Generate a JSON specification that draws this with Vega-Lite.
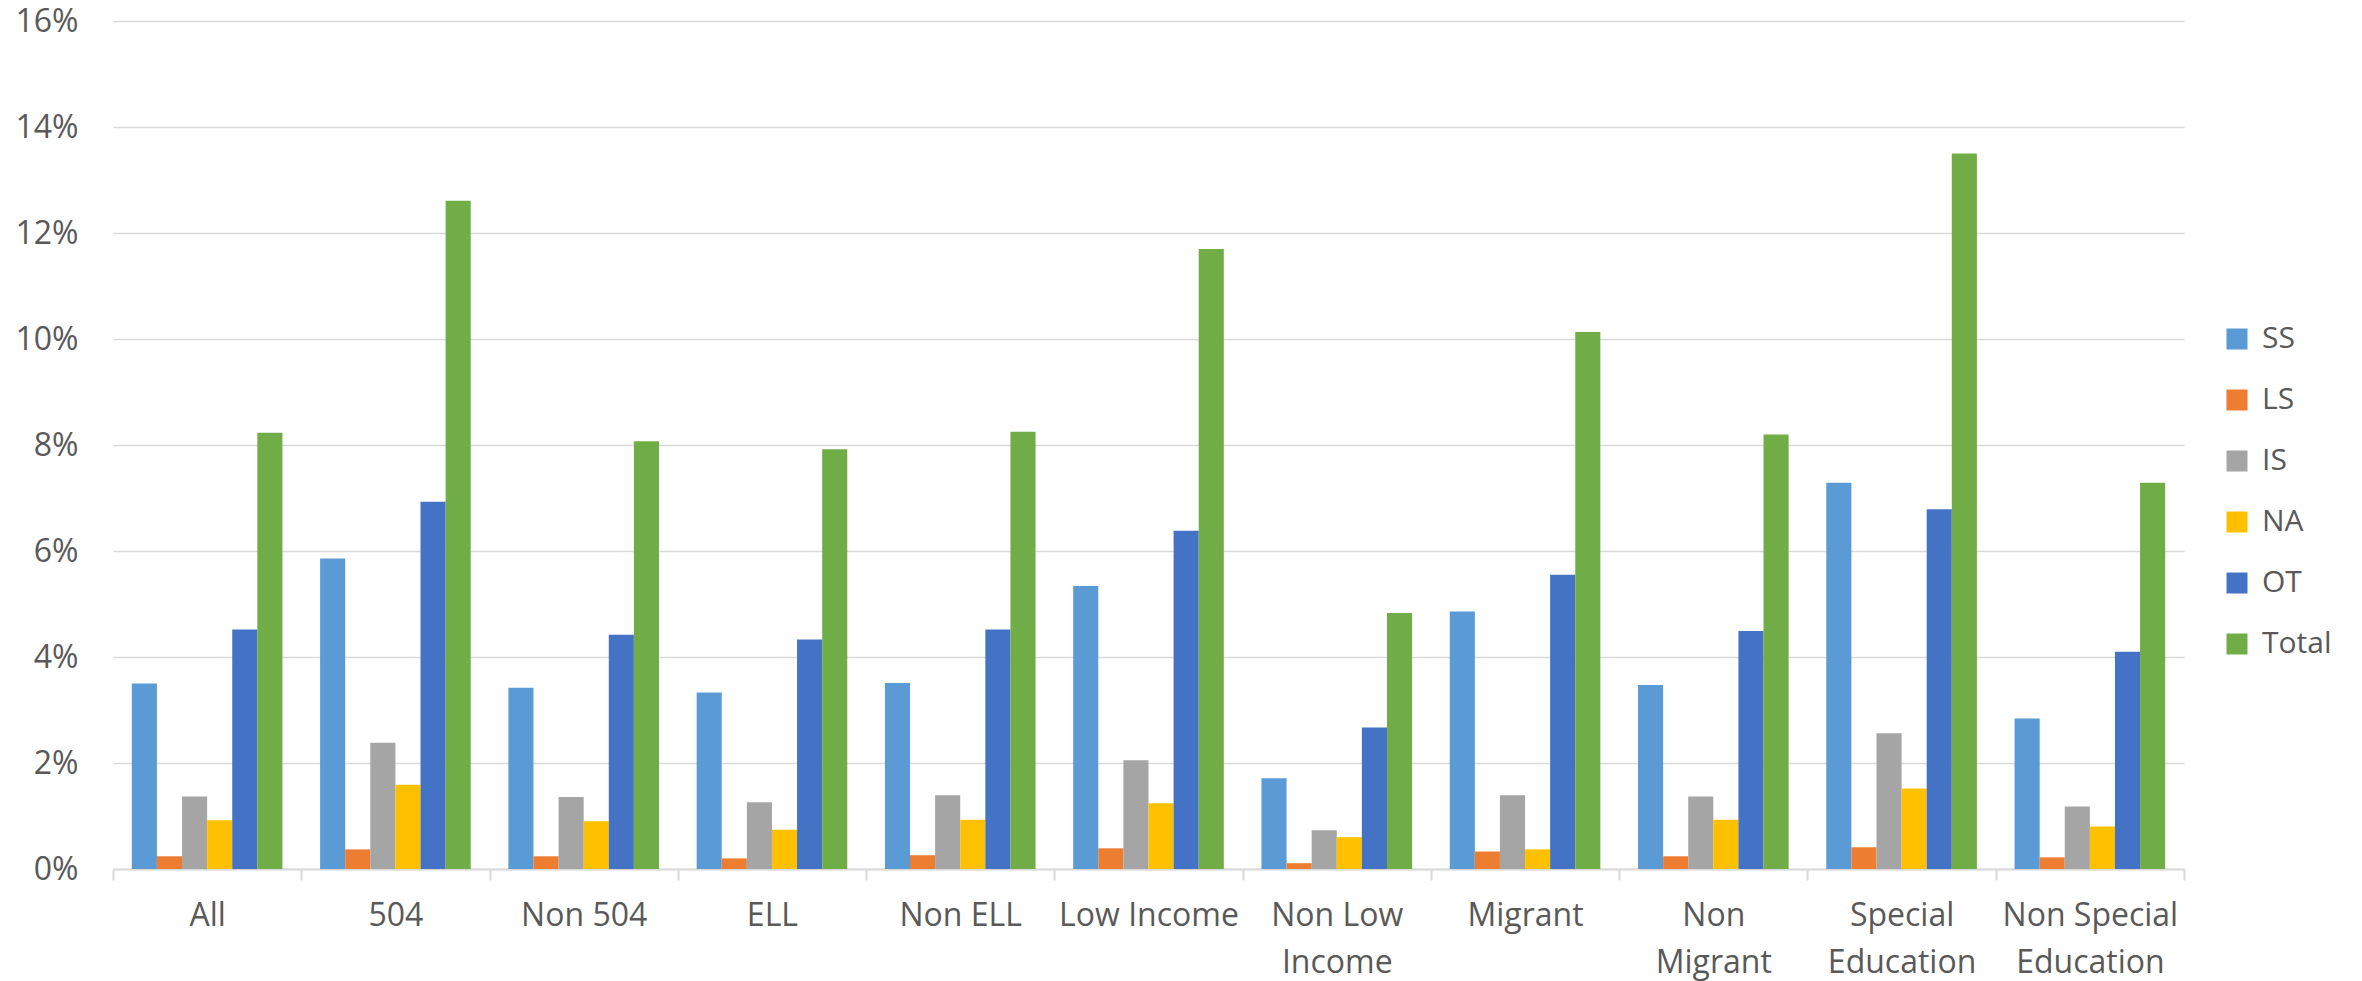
{
  "$schema": "https://vega.github.io/schema/vega-lite/v6.json",
  "autosize": "none",
  "width": 2071,
  "height": 848,
  "padding": {"left": 113, "top": 21, "right": 178, "bottom": 112},
  "background": "white",
  "data": {
    "values": [
      {"group": "All", "series": "SS", "value": 0.0350},
      {"group": "All", "series": "LS", "value": 0.0024},
      {"group": "All", "series": "IS", "value": 0.0137},
      {"group": "All", "series": "NA", "value": 0.0092},
      {"group": "All", "series": "OT", "value": 0.0452},
      {"group": "All", "series": "Total", "value": 0.0823},
      {"group": "504", "series": "SS", "value": 0.0586},
      {"group": "504", "series": "LS", "value": 0.0037},
      {"group": "504", "series": "IS", "value": 0.0238},
      {"group": "504", "series": "NA", "value": 0.0159},
      {"group": "504", "series": "OT", "value": 0.0693},
      {"group": "504", "series": "Total", "value": 0.1261},
      {"group": "Non 504", "series": "SS", "value": 0.0342},
      {"group": "Non 504", "series": "LS", "value": 0.0024},
      {"group": "Non 504", "series": "IS", "value": 0.0136},
      {"group": "Non 504", "series": "NA", "value": 0.0090},
      {"group": "Non 504", "series": "OT", "value": 0.0442},
      {"group": "Non 504", "series": "Total", "value": 0.0807},
      {"group": "ELL", "series": "SS", "value": 0.0333},
      {"group": "ELL", "series": "LS", "value": 0.0020},
      {"group": "ELL", "series": "IS", "value": 0.0126},
      {"group": "ELL", "series": "NA", "value": 0.0074},
      {"group": "ELL", "series": "OT", "value": 0.0433},
      {"group": "ELL", "series": "Total", "value": 0.0792},
      {"group": "Non ELL", "series": "SS", "value": 0.0351},
      {"group": "Non ELL", "series": "LS", "value": 0.0026},
      {"group": "Non ELL", "series": "IS", "value": 0.0139},
      {"group": "Non ELL", "series": "NA", "value": 0.0093},
      {"group": "Non ELL", "series": "OT", "value": 0.0452},
      {"group": "Non ELL", "series": "Total", "value": 0.0825},
      {"group": "Low Income", "series": "SS", "value": 0.0534},
      {"group": "Low Income", "series": "LS", "value": 0.0039},
      {"group": "Low Income", "series": "IS", "value": 0.0205},
      {"group": "Low Income", "series": "NA", "value": 0.0124},
      {"group": "Low Income", "series": "OT", "value": 0.0638},
      {"group": "Low Income", "series": "Total", "value": 0.1170},
      {"group": "Non Low Income", "series": "SS", "value": 0.0171},
      {"group": "Non Low Income", "series": "LS", "value": 0.0011},
      {"group": "Non Low Income", "series": "IS", "value": 0.0073},
      {"group": "Non Low Income", "series": "NA", "value": 0.0060},
      {"group": "Non Low Income", "series": "OT", "value": 0.0267},
      {"group": "Non Low Income", "series": "Total", "value": 0.0483},
      {"group": "Migrant", "series": "SS", "value": 0.0486},
      {"group": "Migrant", "series": "LS", "value": 0.0033},
      {"group": "Migrant", "series": "IS", "value": 0.0139},
      {"group": "Migrant", "series": "NA", "value": 0.0037},
      {"group": "Migrant", "series": "OT", "value": 0.0555},
      {"group": "Migrant", "series": "Total", "value": 0.1013},
      {"group": "Non Migrant", "series": "SS", "value": 0.0347},
      {"group": "Non Migrant", "series": "LS", "value": 0.0024},
      {"group": "Non Migrant", "series": "IS", "value": 0.0137},
      {"group": "Non Migrant", "series": "NA", "value": 0.0093},
      {"group": "Non Migrant", "series": "OT", "value": 0.0449},
      {"group": "Non Migrant", "series": "Total", "value": 0.0820},
      {"group": "Special Education", "series": "SS", "value": 0.0729},
      {"group": "Special Education", "series": "LS", "value": 0.0041},
      {"group": "Special Education", "series": "IS", "value": 0.0256},
      {"group": "Special Education", "series": "NA", "value": 0.0152},
      {"group": "Special Education", "series": "OT", "value": 0.0679},
      {"group": "Special Education", "series": "Total", "value": 0.1350},
      {"group": "Non Special Education", "series": "SS", "value": 0.0284},
      {"group": "Non Special Education", "series": "LS", "value": 0.0022},
      {"group": "Non Special Education", "series": "IS", "value": 0.0118},
      {"group": "Non Special Education", "series": "NA", "value": 0.0080},
      {"group": "Non Special Education", "series": "OT", "value": 0.0410},
      {"group": "Non Special Education", "series": "Total", "value": 0.0729}
    ]
  },
  "mark": {"type": "bar"},
  "encoding": {
    "x": {
      "field": "group",
      "type": "nominal",
      "sort": null,
      "scale": {"paddingInner": 0, "paddingOuter": 0},
      "axis": {
        "title": null,
        "labelAngle": 0,
        "labelFont": "Open Sans",
        "labelFontSize": 32,
        "labelColor": "#595959",
        "labelBaseline": "top",
        "labelPadding": 20,
        "labelLineHeight": 47,
        "labelLimit": 400,
        "labelExpr": "datum.value == 'Non Low Income' ? ['Non Low', 'Income'] : datum.value == 'Non Migrant' ? ['Non', 'Migrant'] : datum.value == 'Special Education' ? ['Special', 'Education'] : datum.value == 'Non Special Education' ? ['Non Special', 'Education'] : datum.value",
        "tickBand": "extent",
        "ticks": true,
        "tickSize": 11,
        "tickColor": "#D9D9D9",
        "tickWidth": 2,
        "domainColor": "#D9D9D9",
        "domainWidth": 2,
        "grid": false
      }
    },
    "xOffset": {
      "field": "series",
      "type": "nominal",
      "sort": ["SS", "LS", "IS", "NA", "OT", "Total"],
      "scale": {"paddingInner": 0, "paddingOuter": 0.75}
    },
    "y": {
      "field": "value",
      "type": "quantitative",
      "scale": {"domain": [0, 0.16], "nice": false},
      "axis": {
        "title": null,
        "format": ".0%",
        "values": [0, 0.02, 0.04, 0.06, 0.08, 0.1, 0.12, 0.14, 0.16],
        "labelFont": "Open Sans",
        "labelFontSize": 32,
        "labelColor": "#595959",
        "labelPadding": 35,
        "ticks": false,
        "domain": false,
        "grid": true,
        "gridColor": "#D9D9D9",
        "gridWidth": 1.5
      }
    },
    "color": {
      "field": "series",
      "type": "nominal",
      "scale": {
        "domain": ["SS", "LS", "IS", "NA", "OT", "Total"],
        "range": ["#5B9BD5", "#ED7D31", "#A5A5A5", "#FFC000", "#4472C4", "#70AD47"]
      },
      "legend": {
        "title": null,
        "orient": "none",
        "legendX": 2109,
        "legendY": 303,
        "symbolType": "square",
        "symbolSize": 441,
        "symbolStrokeWidth": 0,
        "symbolOpacity": 1,
        "labelFont": "Open Sans",
        "labelFontSize": 30,
        "labelColor": "#595959",
        "labelOffset": 10,
        "rowPadding": 31
      }
    }
  },
  "config": {
    "view": {"stroke": null},
    "axis": {"zindex": 0}
  }
}
